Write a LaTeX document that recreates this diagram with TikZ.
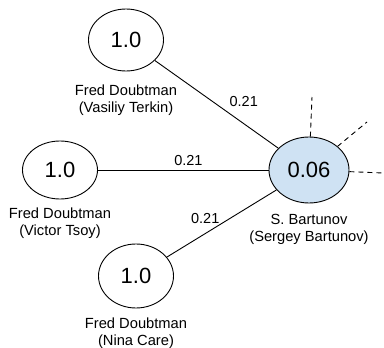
\documentclass[tikz,border=0pt]{standalone}
\usepackage{fontspec}
\setmainfont{Liberation Sans}
\usetikzlibrary{positioning, shapes.geometric}
\definecolor{nodeblue}{RGB}{207,226,243}
\tikzset{
    person/.style={shape=ellipse,draw,line width=0.9pt,minimum width=75pt,minimum height=62pt,inner sep=0pt,font=\fontsize{22}{26}\selectfont},
    namebox/.style={align=center,inner sep=1pt,font=\fontsize{14.7}{17}\selectfont},
    weightlabel/.style={inner sep=1pt,font=\fontsize{14.5}{17}\selectfont},
    edgeline/.style={draw,line width=0.9pt},
    stub/.style={draw,line width=0.9pt,dash pattern=on 5pt off 4pt}
}

\begin{document}
\begin{tikzpicture}[x=1pt,y=-1pt]
    \useasboundingbox (0,0) rectangle (384,348);

    % nodes
    \node [person]                   at (126,40)  (terkin)   {1.0};
    \node [person, minimum height=58pt] at (60,170) (tsoy)   {1.0};
    \node [person, minimum height=64pt] at (136,276) (care)  {1.0};
    \node [person, fill=nodeblue, minimum width=80pt, minimum height=66pt]
                                     at (309,170) (bartunov) {0.06};

    % names under the nodes
    \node [namebox, below=12pt of terkin]   (terkinname)   {Fred Doubtman\\(Vasiliy Terkin)};
    \node [namebox, below=7pt of tsoy]      (tsoyname)     {Fred Doubtman\\(Victor Tsoy)};
    \node [namebox, below=8pt of care]      (carename)     {Fred Doubtman\\(Nina Care)};
    \node [namebox, below=10pt of bartunov] (bartunovname) {S. Bartunov\\(Sergey Bartunov)};

    % ends of the dashed stubs
    \coordinate (s1) at (312,97);
    \coordinate (s2) at (367,122);
    \coordinate (s3) at (383,173);

    % edges with weights
    \begin{scope}[edgeline]
        \draw (terkin) -- node [weightlabel, pos=0.72, above=16pt] {0.21} (bartunov);
        \draw (tsoy)   -- node [weightlabel, pos=0.53, above=3pt]  {0.21} (bartunov);
        \draw (care)   -- node [weightlabel, pos=0.35, above=8pt]  {0.21} (bartunov);
    \end{scope}

    % further links, not shown
    \begin{scope}[stub]
        \draw (bartunov) -- (s1);
        \draw (bartunov) -- (s2);
        \draw (bartunov) -- (s3);
    \end{scope}
\end{tikzpicture}
\end{document}
